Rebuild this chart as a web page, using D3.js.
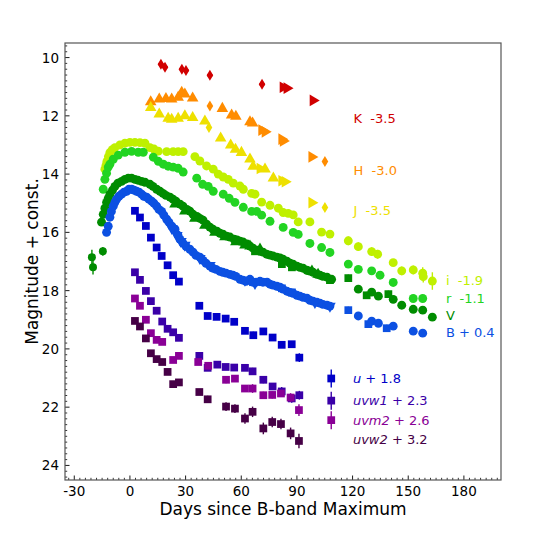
<!DOCTYPE html>
<html><head><meta charset="utf-8">
<script src="https://cdn.jsdelivr.net/npm/d3@7"></script>
<style>body{margin:0;background:#fff}text{font-family:"DejaVu Sans",sans-serif}</style>
</head><body><svg id="c" width="545" height="545"></svg>
<script>
// ---- data: [day since B max, magnitude + const, (error)] ----
const K_dia = [[16.7,10.23,0.12],[18.9,10.33,0.12],[28.0,10.40,0.1],[30.2,10.44,0.1],[43.1,10.61,0.1],[71.2,10.92,0.08]];
const K_rtri = [[82.5,11.02],[84.6,11.05],[98.7,11.47]];
const H_tri = [[11.2,11.52],[15.8,11.43],[19.4,11.41],[22.5,11.43],[26.0,11.37],[27.9,11.20],[29.6,11.26],[33.8,11.39],[49.8,11.75],[54.8,11.98],[57.1,12.02],[64.7,12.21],[66.1,12.25]];
const H_dia = [[43.1,11.66,0.1],[105.1,13.57,0.1]];
const H_rtri = [[71.0,12.49],[72.8,12.55],[81.8,12.80],[82.6,12.86],[98.0,13.41]];
const J_tri = [[11.2,11.72],[15.8,11.94],[20.6,12.09],[22.5,12.12],[26.0,12.09],[29.6,12.00],[33.8,12.06],[40.4,12.18],[48.9,12.77],[54.3,13.01],[56.9,13.15],[60.1,13.26],[64.7,13.49],[66.4,13.74],[72.8,13.83],[77.3,14.14]];
const J_dia = [[42.6,12.40,0.1],[105.1,15.15,0.1]];
const J_rtri = [[70.1,13.81],[81.8,14.23],[83.6,14.26],[98.0,14.98]];
const i_band = [[-13.5,13.83],[-12.9,13.70],[-12.4,13.56],[-11.6,13.40],[-10.8,13.26],[-9.5,13.16],[-8.1,13.09],[-5.4,13.00],[-2.7,12.94],[0,12.91],[2.7,12.91],[5.4,12.92],[8.1,12.94],[10.8,13.09],[13.0,13.14],[15.3,13.21],[19.8,13.23],[23.3,13.23],[26.0,13.23],[28.7,13.23],[35.0,13.40],[37.7,13.55],[41.3,13.72],[44.9,13.83],[47.6,14.00],[50.3,14.10],[53.0,14.18],[55.7,14.31],[59.3,14.41],[61.1,14.52],[65.6,14.66],[67.4,14.69],[71.0,14.96],[75.5,15.07],[80.0,15.17],[82.6,15.32],[85.3,15.35],[88.0,15.40],[90.7,15.64],[97.0,15.64]];
const i_late = [[103.3,15.99,0.12],[107.8,16.06,0.12],[117.7,16.29,0.15],[123.1,16.49,0.15],[130.3,16.66,0.15],[133.5,16.75,0.15],[141.9,17.04,0.12],[146.5,17.32,0.15],[152.7,17.29,0.15],[157.8,17.40,0.2],[158.1,17.52,0.2],[163.0,17.67,0.3]];
const r_band = [[-14.4,14.52],[-13.5,14.18],[-12.6,13.97],[-11.7,13.76],[-10.8,13.66],[-9.0,13.49],[-6.3,13.35],[-2.7,13.25],[0.9,13.22],[4.5,13.25],[7.2,13.25],[12.6,13.42],[15.3,13.56],[18.0,13.66],[20.6,13.73],[23.3,13.76],[26.0,13.80],[28.7,13.93],[36.0,14.14],[39.2,14.35],[42.2,14.42],[44.9,14.59],[50.3,14.69],[53.5,14.83],[56.6,14.97],[61.1,15.14],[65.6,15.28],[68.3,15.28],[71.0,15.41],[75.5,15.62],[82.6,15.83],[88.0,16.00],[90.7,16.07],[97.0,16.38],[103.3,16.52],[107.8,16.69]];
const r_late = [[117.7,17.09,0.08],[123.1,17.27,0.08],[130.3,17.32,0.08],[134.8,17.47,0.08],[141.9,17.72,0.08],[152.7,18.27,0.08],[157.8,18.27,0.08]];
const V_early = [[-20.5,16.85,0.25],[-19.9,17.20,0.25],[-14.6,16.65,0.15]];
const V_band = [[-15.3,15.65],[-14.4,15.38],[-13.5,15.17],[-12.6,14.97],[-11.7,14.83],[-10.8,14.69],[-9.4,14.55],[-8.1,14.42],[-6.5,14.31],[-4.5,14.25],[-2.7,14.18],[-0.9,14.14],[0.9,14.14],[2.7,14.18],[4.3,14.21],[6.3,14.25],[8.1,14.28],[10.8,14.35],[12.4,14.42],[14.4,14.52],[16.2,14.59],[17.8,14.66],[19.4,14.73],[21.6,14.79],[23.2,14.86],[24.8,14.93],[27.0,15.03],[28.6,15.10],[30.7,15.21],[32.3,15.27],[34.0,15.38],[36.1,15.45],[37.7,15.52],[39.4,15.58],[41.3,15.72],[43.1,15.82],[44.7,15.89],[46.9,15.96],[48.5,16.03],[50.1,16.06],[52.1,16.13],[53.9,16.16],[56.1,16.23],[57.7,16.26],[59.3,16.30],[60.9,16.33],[63.1,16.40],[64.7,16.47],[66.3,16.54],[68.5,16.61],[70.1,16.65],[71.7,16.68],[73.7,16.75],[75.5,16.78],[77.1,16.81],[79.2,16.85],[80.9,16.88],[82.5,16.92],[84.6,16.99],[86.3,17.06],[87.9,17.09],[90.0,17.16],[91.6,17.20],[93.3,17.23],[95.4,17.30],[97.0,17.33],[98.7,17.37],[100.8,17.44],[102.4,17.47],[104.0,17.51],[106.2,17.54],[108.7,17.61]];
const V_tri = [[24.3,15.03],[29.6,15.27],[35.0,15.52],[40.4,15.76],[45.8,16.00],[51.2,16.16],[57.1,16.33],[62.0,16.44],[64.7,16.47],[70.1,16.58],[98.1,17.33],[101.4,17.44]];
const V_sq = [[67.4,16.65],[81.9,17.09],[87.3,17.20],[107.8,17.64],[117.7,17.57,0.12],[127.6,18.16,0.12],[139.3,18.12,0.12]];
const V_late = [[123.1,17.95],[130.3,18.05],[133.9,18.19],[141.9,18.30],[146.5,18.50],[152.7,18.64],[157.8,18.67],[163.0,18.91]];
const B_band = [[-12.6,16.00],[-11.7,15.79],[-10.8,15.48],[-10.0,15.28],[-9.0,15.10],[-8.1,14.97],[-7.2,14.86],[-5.9,14.76],[-4.5,14.69],[-3.2,14.62],[-1.8,14.59],[-0.5,14.52],[0.9,14.52],[2.2,14.55],[3.6,14.59],[4.9,14.62],[6.3,14.69],[7.5,14.76],[9.0,14.79],[10.2,14.86],[11.7,14.93],[12.9,15.00],[14.4,15.10],[15.6,15.21],[17.1,15.28],[18.3,15.41],[19.8,15.55],[21.0,15.65],[22.6,15.79],[24.3,15.89],[25.9,16.10],[27.0,16.24],[28.6,16.37],[30.2,16.48],[32.3,16.58],[34.0,16.68],[35.6,16.79],[37.7,16.85],[39.4,16.96],[41.0,17.06],[43.1,17.16],[44.7,17.23],[46.4,17.27],[48.5,17.34],[50.1,17.37],[51.8,17.40],[53.9,17.44],[55.5,17.47],[57.1,17.51],[59.3,17.61],[60.9,17.64],[62.5,17.68],[64.7,17.61],[66.3,17.71],[67.9,17.71],[70.1,17.68],[71.7,17.71],[73.9,17.71],[75.5,17.78],[77.1,17.81],[79.2,17.85],[80.9,17.88],[82.5,17.95],[84.6,18.02],[86.3,18.06],[87.9,18.09],[90.0,18.16],[91.6,18.19],[93.3,18.23],[95.4,18.26],[97.0,18.33],[98.7,18.36],[100.8,18.40],[102.4,18.43],[104.0,18.47],[106.2,18.50],[107.8,18.53]];
const B_tri = [[22.6,15.86],[25.3,16.10],[27.5,16.31],[29.6,16.44],[37.7,16.89],[43.1,17.13],[62.0,17.64],[67.4,17.75],[99.7,18.40],[107.8,18.53]];
const B_sq = [[66.3,17.71],[71.7,17.71],[81.9,17.92],[87.3,18.06],[117.7,18.67,0.12],[128.5,19.15,0.12],[138.4,19.29,0.12]];
const B_late = [[123.1,18.87],[130.3,19.05,0.12],[133.9,19.12,0.12],[141.9,19.22],[152.7,19.39],[157.8,19.46]];
const u_band = [[2.7,15.26,0.05],[5.4,15.49,0.05],[8.6,15.78,0.05],[11.3,16.18,0.05],[14.4,16.52,0.05],[17.1,16.81,0.05],[20.3,17.13,0.05],[23.3,17.47,0.05],[26.4,17.69,0.05],[37.4,18.52,0.06],[41.9,18.87,0.06],[46.7,18.90,0.06],[51.6,18.96,0.06],[56.2,19.07,0.07],[62.0,19.38,0.1],[66.5,19.53,0.12],[71.9,19.40,0.1],[76.9,19.61,0.1],[81.8,19.86,0.1],[87.2,19.84,0.1],[91.3,20.30,0.15]];
const uvw1_band = [[2.7,17.37,0.05],[5.4,17.63,0.05],[8.6,18.01,0.05],[11.3,18.36,0.05],[14.4,18.69,0.05],[17.4,19.06,0.05],[20.3,19.31,0.05],[23.3,19.43,0.05],[26.4,19.62,0.06],[37.4,20.24,0.07],[41.9,20.65,0.08],[47.1,20.54,0.1],[51.6,20.62,0.1],[56.2,20.64,0.1],[62.0,20.65,0.1],[66.1,20.77,0.12],[71.9,21.06,0.12],[76.9,21.29,0.12],[81.8,21.46,0.15],[87.2,21.70,0.15],[91.3,21.59,0.15]];
const uvm2_band = [[2.7,18.27,0.05],[5.4,18.52,0.05],[8.6,19.00,0.05],[11.3,19.46,0.06],[14.4,19.69,0.06],[17.4,19.76,0.07],[23.3,20.38,0.08],[26.4,20.24,0.08],[36.8,20.45,0.08],[42.2,20.58,0.1],[51.8,21.06,0.12],[56.6,21.02,0.12],[62.0,21.36,0.12],[66.1,21.36,0.15],[71.9,21.59,0.12],[76.7,21.58,0.12],[81.4,21.53,0.12],[86.6,21.67,0.15],[91.1,22.10,0.2]];
const uvw2_band = [[2.7,19.04,0.05],[5.4,19.23,0.05],[8.6,19.64,0.06],[11.3,20.15,0.06],[14.4,20.35,0.06],[17.4,20.45,0.07],[20.3,20.79,0.07],[23.3,21.21,0.08],[26.4,21.15,0.08],[37.4,21.48,0.1],[41.9,21.73,0.12],[51.8,21.98,0.15],[56.6,22.05,0.15],[62.0,22.39,0.18],[66.1,22.16,0.18],[71.9,22.73,0.2],[76.7,22.51,0.18],[81.4,22.58,0.18],[86.6,22.90,0.2],[91.1,23.16,0.25]];
const xTicks = [-30,0,30,60,90,120,150,180];
const yTicks = [10,12,14,16,18,20,22,24];
const bandLabels = [["K  -3.5",12.25],["H  -3.0",14.03],["J  -3.5",15.40],["i  -1.9",17.81],["r  -1.1",18.41],["V",19.01],["B + 0.4",19.59]];
const uvLabels = [["u"," + 1.8",21.17],["uvw1"," + 2.3",21.93],["uvm2"," + 2.6",22.60],["uvw2"," + 3.2",23.27]];

// ---- layout ----
const svg = d3.select("#c");
const L=65,R=501,T=43,Bm=480;
const x = d3.scaleLinear().domain([-35,200]).range([L,R]);
const y = d3.scaleLinear().domain([9.5,24.5]).range([T,Bm]);

const col = {K:"#d10000",H:"#ff8c00",J:"#eee000",i:"#bff000",r:"#22d422",V:"#008c00",B:"#0c50e2",u:"#0000c8",uvw1:"#3a00a8",uvm2:"#8a0096",uvw2:"#460046"};

const g = svg.append("g");
const shapes = {
  circle: s => d3.symbol(d3.symbolCircle, 62*s)(),
  square: s => d3.symbol(d3.symbolSquare, 60*s)(),
  tri: s => d3.symbol(d3.symbolTriangle, 58*s)(),
  dia: s => "M0,-5.5L3.3,0L0,5.5L-3.3,0Z"
};
function plot(data, color, shape, opt={}) {
  const s = opt.scale||1, rot = opt.rot||0;
  const gg = g.append("g");
  data.forEach(d => {
    if (d[2] !== undefined) {
      gg.append("line").attr("x1",x(d[0])).attr("x2",x(d[0])).attr("y1",y(d[1]-d[2])).attr("y2",y(d[1]+d[2]))
        .attr("stroke",color).attr("stroke-width",1.4);
      if (opt.xerr) gg.append("line").attr("x1",x(d[0]-opt.xerr)).attr("x2",x(d[0]+opt.xerr)).attr("y1",y(d[1])).attr("y2",y(d[1]))
        .attr("stroke",color).attr("stroke-width",2);
    }
    gg.append("path").attr("d",shapes[shape](s))
      .attr("transform",`translate(${x(d[0])},${y(d[1])}) rotate(${rot})`)
      .attr("fill",color);
  });
}
plot(K_dia,col.K,"dia",{xerr:1.5});
plot(K_rtri,col.K,"tri",{rot:90});
plot(H_tri,col.H,"tri");
plot(H_dia,col.H,"dia");
plot(H_rtri,col.H,"tri",{rot:90});
plot(J_tri,col.J,"tri");
plot(J_dia,col.J,"dia");
plot(J_rtri,col.J,"tri",{rot:90});
plot(i_band,col.i,"circle");
plot(i_late,col.i,"circle");
plot(r_band,col.r,"circle");
plot(r_late,col.r,"circle");
plot(V_early,col.V,"circle",{scale:0.8});
plot(V_band,col.V,"circle");
plot(V_tri,col.V,"tri");
plot(V_sq,col.V,"square");
plot(V_late,col.V,"circle");
plot(B_band,col.B,"circle");
plot(B_tri,col.B,"tri",{rot:180});
plot(B_sq,col.B,"square");
plot(B_late,col.B,"circle");
plot(u_band,col.u,"square");
plot(uvw1_band,col.uvw1,"square");
plot(uvm2_band,col.uvm2,"square");
plot(uvw2_band,col.uvw2,"square");

// labels for bands
const lc = [col.K,col.H,col.J,col.i,col.r,col.V,col.B];
bandLabels.forEach((b,k)=>{
  const xx = k<3 ? x(120.5) : x(170.3);
  svg.append("text").attr("x",xx).attr("y",y(b[1])).attr("fill",lc[k]).attr("font-size",13)
    .style("white-space","pre").text(b[0]);
});
// UV legend
const uc=[col.u,col.uvw1,col.uvm2,col.uvw2];
uvLabels.forEach((b,k)=>{
  if (k<3) {
    const yy = y(b[2])-4.5;
    svg.append("line").attr("x1",x(108.5)).attr("x2",x(108.5)).attr("y1",yy-9).attr("y2",yy+9).attr("stroke",uc[k]).attr("stroke-width",1.4);
    svg.append("path").attr("d",shapes.square(1)).attr("transform",`translate(${x(108.5)},${yy})`).attr("fill",uc[k]);
  }
  const t = svg.append("text").attr("x",x(120.2)).attr("y",y(b[2])).attr("fill",uc[k]).attr("font-size",13).style("white-space","pre");
  t.append("tspan").attr("font-style","italic").text(b[0]);
  t.append("tspan").text(b[1]);
});

// ---- axes ----
const ax = svg.append("g");
const xMinor = d3.range(-33,200,3).filter(v=>v%30!==0);
const yMinor = d3.range(9.6,24.5,0.2).map(v=>+v.toFixed(1)).filter(v=>Math.abs(v/2-Math.round(v/2))>1e-6);
xMinor.forEach(v=>ax.append("line").attr("x1",x(v)).attr("x2",x(v)).attr("y1",Bm).attr("y2",Bm-2.2).attr("stroke","#000").attr("stroke-width",0.8));
xTicks.forEach(v=>{
  ax.append("line").attr("x1",x(v)).attr("x2",x(v)).attr("y1",Bm).attr("y2",Bm-4.5).attr("stroke","#000").attr("stroke-width",0.9);
  ax.append("text").attr("x",x(v)).attr("y",Bm+16).attr("text-anchor","middle").attr("font-size",13.5).text(v);
});
yMinor.forEach(v=>ax.append("line").attr("x1",L).attr("x2",L+2.2).attr("y1",y(v)).attr("y2",y(v)).attr("stroke","#000").attr("stroke-width",0.8));
yTicks.forEach(v=>{
  ax.append("line").attr("x1",L).attr("x2",L+4.5).attr("y1",y(v)).attr("y2",y(v)).attr("stroke","#000").attr("stroke-width",0.9);
  ax.append("text").attr("x",L-6).attr("y",y(v)+5).attr("text-anchor","end").attr("font-size",13.5).text(v);
});
ax.append("rect").attr("x",L).attr("y",T).attr("width",R-L).attr("height",Bm-T).attr("fill","none").attr("stroke","#555").attr("stroke-width",1.2);
svg.append("text").attr("x",(L+R)/2).attr("y",515).attr("text-anchor","middle").attr("font-size",17).text("Days since B-band Maximum");
svg.append("text").attr("transform",`translate(38,${(T+Bm)/2}) rotate(-90)`).attr("text-anchor","middle").attr("font-size",17).text("Magnitude + const.");
</script></body></html>
